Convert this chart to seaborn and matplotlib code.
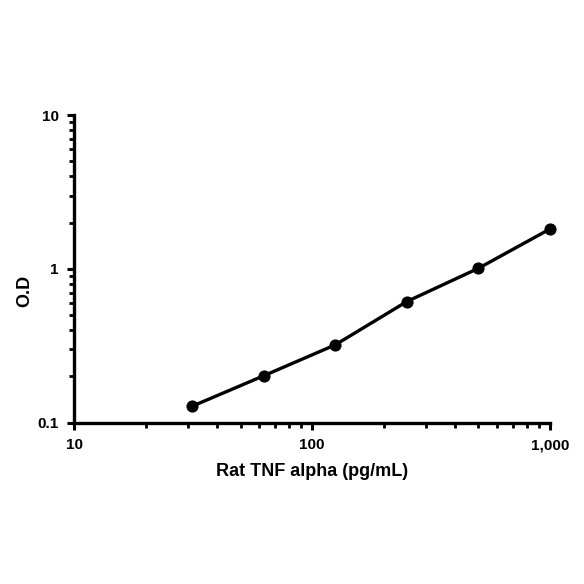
import numpy as np
import pandas as pd
import matplotlib
matplotlib.use('Agg')
import matplotlib.pyplot as plt
import seaborn as sns
from matplotlib.ticker import FixedLocator, LogLocator, NullFormatter

# Standard curve values
concentration = [31.25, 62.5, 125, 250, 500, 1000]
optical_density = [0.128, 0.202, 0.321, 0.614, 1.01, 1.82]
x_tick_vals = [10, 100, 1000]
x_tick_labels = ['10', '100', '1,000']
y_tick_vals = [0.1, 1, 10]
y_tick_labels = ['0.1', '1', '10']

sns.set_style('ticks')
plt.rcParams['font.family'] = ['Liberation Sans', 'DejaVu Sans']

df = pd.DataFrame({'conc': concentration, 'od': optical_density})

fig = plt.figure(figsize=(5.84, 5.84), dpi=100)
ax = fig.add_axes([0.127, 0.276, 0.815, 0.527])

sns.lineplot(data=df, x='conc', y='od', ax=ax, color='black', linewidth=2.4,
             marker='o', markersize=8, markeredgecolor='black', clip_on=False)

ax.set_xscale('log')
ax.set_yscale('log')
ax.set_xlim(10, 1000)
ax.set_ylim(0.1, 10)

ax.xaxis.set_major_locator(FixedLocator(x_tick_vals))
ax.set_xticklabels(x_tick_labels)
ax.yaxis.set_major_locator(FixedLocator(y_tick_vals))
ax.set_yticklabels(y_tick_labels)
ax.xaxis.set_minor_locator(LogLocator(base=10, subs=np.arange(2, 10)))
ax.yaxis.set_minor_locator(LogLocator(base=10, subs=np.arange(2, 10)))
ax.xaxis.set_minor_formatter(NullFormatter())
ax.yaxis.set_minor_formatter(NullFormatter())

for s in ['top', 'right']:
    ax.spines[s].set_visible(False)
for s in ['left', 'bottom']:
    ax.spines[s].set_linewidth(2.4)
    ax.spines[s].set_color('black')

ax.tick_params(which='major', length=5, width=2.2, direction='out', colors='black',
               labelcolor='black', pad=6)
ax.tick_params(which='minor', length=3.5, width=2, direction='out', colors='black')
for lab in ax.get_xticklabels() + ax.get_yticklabels():
    lab.set_fontweight('bold')
    lab.set_fontsize(11)

ax.set_xlabel('Rat TNF alpha (pg/mL)', fontsize=13, fontweight='bold', color='black', labelpad=8)
ax.set_ylabel('O.D', fontsize=13, fontweight='bold', color='black', labelpad=10)
ax.yaxis.set_label_coords(-0.085, 0.43)

fig.savefig('out.png', dpi=100)
